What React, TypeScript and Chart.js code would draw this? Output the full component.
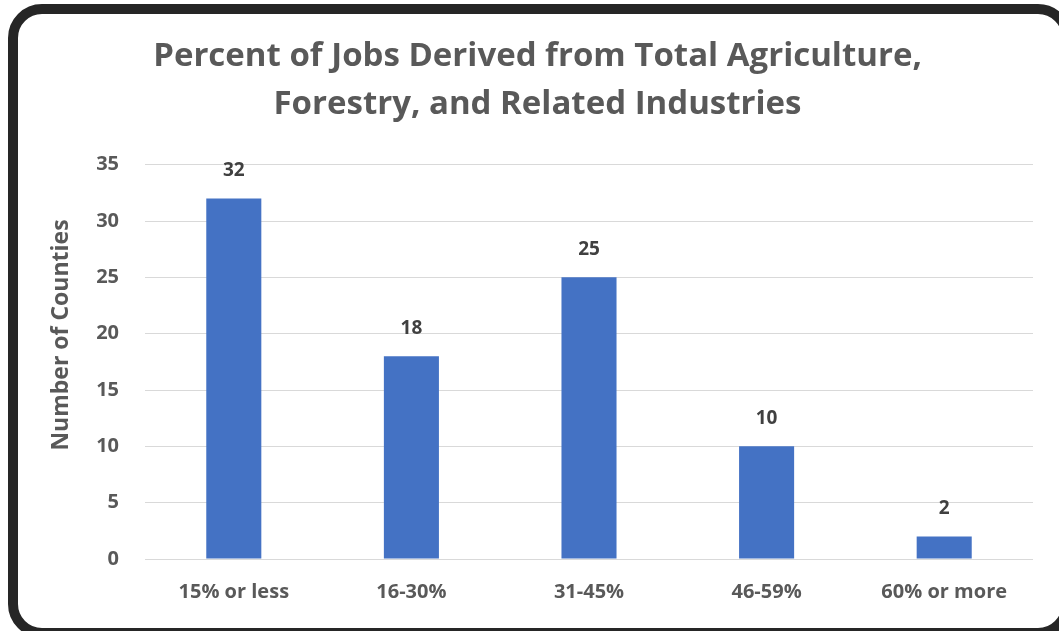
import { useEffect, useRef } from "react";
import { Chart, registerables } from "chart.js";

Chart.register(...registerables);

const categories = ["15% or less", "16-30%", "31-45%", "46-59%", "60% or more"];
const counts = [32, 18, 25, 10, 2];
const yMin = 0;
const yMax = 35;
const yStep = 5;
const titleLines = ["Percent of Jobs Derived from Total Agriculture,", "Forestry, and Related Industries"];
const yAxisTitle = "Number of Counties";

const FONT = "'Open Sans', Lato, sans-serif";
const GRAY = "#595959";

const dataLabelPlugin = {
  id: "dataLabels",
  afterDatasetsDraw(chart: any) {
    const ctx = chart.ctx;
    const meta = chart.getDatasetMeta(0);
    ctx.save();
    ctx.font = `bold 19px ${FONT}`;
    ctx.fillStyle = "#404040";
    ctx.textAlign = "center";
    ctx.textBaseline = "middle";
    meta.data.forEach((el: any, i: number) => {
      ctx.fillText(String(chart.data.datasets[0].data[i]), el.x, el.y - 28);
    });
    ctx.restore();
  },
};

const yTitlePlugin = {
  id: "yTitle",
  afterDraw(chart: any) {
    const ctx = chart.ctx;
    ctx.save();
    ctx.translate(61, 335);
    ctx.rotate(-Math.PI / 2);
    ctx.font = `bold 23px ${FONT}`;
    ctx.fillStyle = GRAY;
    ctx.textAlign = "center";
    ctx.textBaseline = "middle";
    ctx.fillText(yAxisTitle, 0, 0);
    ctx.restore();
  },
};

export default function App() {
  const ref = useRef<HTMLCanvasElement | null>(null);
  useEffect(() => {
    if (!ref.current) return;
    const chart = new Chart(ref.current, {
      type: "bar",
      data: {
        labels: categories,
        datasets: [
          {
            data: counts,
            backgroundColor: "#4472C4",
            borderWidth: 0,
            categoryPercentage: 1,
            barPercentage: 0.31,
          },
        ],
      },
      options: {
        responsive: false,
        animation: false,
        layout: { padding: { left: 42, right: 26, top: 33, bottom: 0 } },
        plugins: {
          legend: { display: false },
          tooltip: { enabled: false },
          title: {
            display: true,
            text: titleLines,
            color: GRAY,
            font: { family: FONT, size: 33, weight: "bold", lineHeight: 1.45 },
            padding: { top: 0, bottom: 36 },
          },
        },
        scales: {
          x: {
            grid: { display: false, drawTicks: false },
            border: { display: false },
            ticks: { color: GRAY, font: { family: FONT, size: 20, weight: "bold" }, padding: 21 },
            afterFit(scale: any) {
              scale.height = 72;
            },
          },
          y: {
            min: yMin,
            max: yMax,
            ticks: { stepSize: yStep, color: GRAY, font: { family: FONT, size: 20, weight: "bold" }, padding: 26 },
            grid: { color: "#D9D9D9", lineWidth: 1, drawTicks: false },
            border: { display: false },
            afterFit(scale: any) {
              scale.width = 103;
            },
          },
        },
      },
      plugins: [dataLabelPlugin, yTitlePlugin],
    });
    return () => chart.destroy();
  }, []);

  return (
    <div style={{ position: "fixed", left: 0, top: 0, width: 1059, height: 631, background: "#fff", overflow: "hidden" }}>
      <div
        style={{
          position: "absolute",
          left: 8,
          top: 4,
          width: 1064,
          height: 634,
          border: "10px solid #262626",
          borderRadius: 34,
          boxSizing: "border-box",
        }}
      />
      <canvas ref={ref} width={1059} height={631} style={{ position: "absolute", left: 0, top: 0 }} />
    </div>
  );
}
